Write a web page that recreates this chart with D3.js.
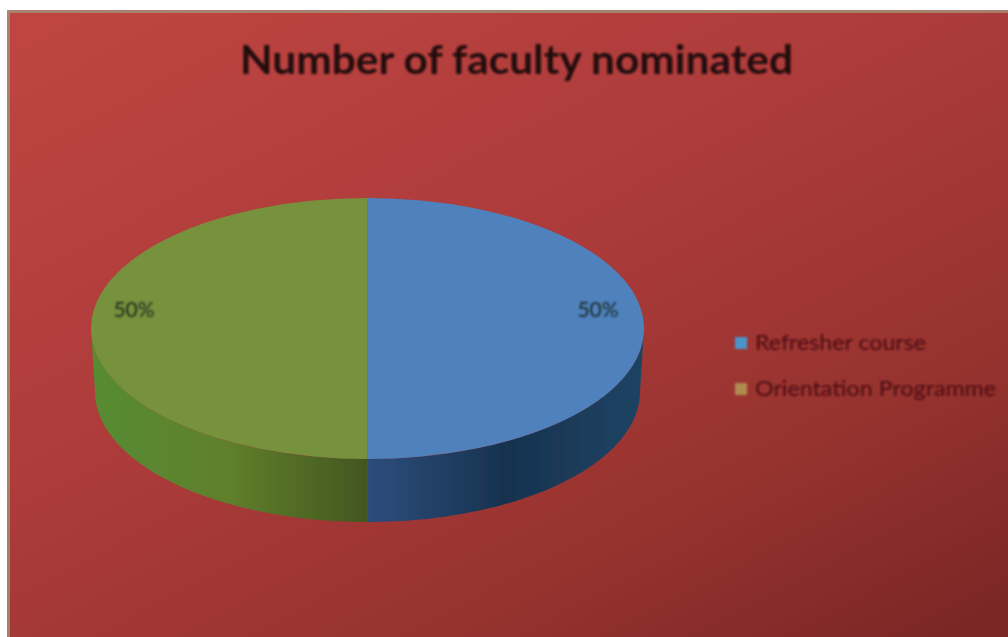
<!DOCTYPE html>
<html><head><meta charset="utf-8">
<script src="https://cdn.jsdelivr.net/npm/d3@7"></script>
<style>html,body{margin:0;padding:0;background:#fff}svg{display:block}</style>
</head><body><div id="c"></div>
<script>
const titleText = "Number of faculty nominated";
const categories = ["Refresher course", "Orientation Programme"];
const values = [50, 50];
const labels = ["50%", "50%"];
const topColors = ["#4f81bd", "#76923c"];
const legendColors = ["#4b94c8", "#b08a50"];

const W = 1008, H = 637;
const cx = 367.5, cy = 328.5, rx = 276.5, ry = 130.5, depth = 63, bottomRx = 272.5;

const svg = d3.select("#c").append("svg").attr("width", W).attr("height", H);
const defs = svg.append("defs");

function grad(id, attrs, stops, userSpace) {
  const g = defs.append("linearGradient").attr("id", id);
  if (userSpace) g.attr("gradientUnits", "userSpaceOnUse");
  Object.entries(attrs).forEach(([k, v]) => g.attr(k, v));
  stops.forEach(([o, c]) => g.append("stop").attr("offset", o).attr("stop-color", c));
}
grad("bg", {x1: "8%", y1: "0%", x2: "92%", y2: "100%"},
  [[0, "#be4541"], [0.45, "#ab3b3a"], [0.75, "#97332f"], [1, "#7c2726"]]);
grad("wall0", {x1: cx, y1: 0, x2: cx + rx, y2: 0},
  [[0, "#2d4d7c"], [0.5, "#17324f"], [1, "#1f4464"]], true);
grad("wall1", {x1: cx - rx, y1: 0, x2: cx, y2: 0},
  [[0, "#578c33"], [0.5, "#5f7f2c"], [1, "#43561f"]], true);

const soft = defs.append("filter").attr("id", "soft")
  .attr("x", "-5%").attr("y", "-20%").attr("width", "110%").attr("height", "140%");
soft.append("feGaussianBlur").attr("stdDeviation", 0.8);
const softer = defs.append("filter").attr("id", "softer")
  .attr("x", "-2%").attr("y", "-2%").attr("width", "104%").attr("height", "104%");
softer.append("feGaussianBlur").attr("stdDeviation", 0.7);

// chart area background
svg.append("rect").attr("x", 7).attr("y", 10).attr("width", W - 7).attr("height", H - 10).attr("fill", "url(#bg)");
svg.append("rect").attr("x", 7).attr("y", 10).attr("width", 3).attr("height", H - 10).attr("fill", "#a58d74").attr("opacity", 0.85);
svg.append("rect").attr("x", 7).attr("y", 10).attr("width", W - 7).attr("height", 3).attr("fill", "#a58d74").attr("opacity", 0.85);

// title
svg.append("text").attr("x", 516.5).attr("y", 74)
  .attr("text-anchor", "middle")
  .attr("font-family", "Lato, 'Open Sans', sans-serif").attr("font-weight", 700).attr("font-size", 40)
  .attr("textLength", 553).attr("lengthAdjust", "spacingAndGlyphs")
  .attr("fill", "#220a0d").attr("filter", "url(#soft)").text(titleText);

// pie
const pie = d3.pie().sort(null).value(d => d);
const arcs = pie(values);
const gPie = svg.append("g").attr("filter", "url(#softer)");

// walls: visible (front) part of every slice, angle measured clockwise from 12 o'clock
const py = a => cy - ry * Math.cos(a);
const lineGen = d3.line();
arcs.forEach((s, i) => {
  const a0 = Math.max(s.startAngle, Math.PI / 2);
  const a1 = Math.min(s.endAngle, 3 * Math.PI / 2);
  if (a1 <= a0) return;
  const t = d3.scaleLinear().domain([0, 60]).range([a0, a1]);
  const as = d3.range(61).map(t);
  const upper = as.map(a => [cx + rx * Math.sin(a), py(a)]);
  const lower = as.slice().reverse().map(a => [cx + bottomRx * Math.sin(a), py(a) + depth]);
  gPie.append("path").attr("d", lineGen(upper.concat(lower)) + "Z").attr("fill", `url(#wall${i})`);
});

// top face: d3.arc squashed into an ellipse
const arcGen = d3.arc().innerRadius(0).outerRadius(rx);
const topFace = gPie.append("g").attr("transform", `translate(${cx},${cy}) scale(1,${ry / rx})`);
topFace.selectAll("path").data(arcs).join("path")
  .attr("d", arcGen).attr("fill", (d, i) => topColors[i]);

// data labels
const labelPos = [[598, 310], [134, 310]];
svg.selectAll("text.lab").data(labels).join("text").attr("class", "lab")
  .attr("x", (d, i) => labelPos[i][0]).attr("y", (d, i) => labelPos[i][1] + 7)
  .attr("text-anchor", "middle")
  .attr("font-family", "Lato, sans-serif").attr("font-size", 21)
  .attr("fill", "#1c2a22").attr("filter", "url(#soft)").text(d => d);

// legend
const legendY = d3.scalePoint().domain(categories).range([343, 389]);
const legend = svg.selectAll("g.leg").data(categories).join("g").attr("class", "leg")
  .attr("transform", d => `translate(0,${legendY(d)})`).attr("filter", "url(#soft)");
legend.append("rect").attr("x", 735).attr("y", -6).attr("width", 12).attr("height", 12)
  .attr("fill", (d, i) => legendColors[i]);
legend.append("text").attr("x", 755).attr("y", 7)
  .attr("font-family", "Lato, sans-serif").attr("font-size", 21)
  .attr("textLength", (d, i) => [171, 241][i]).attr("lengthAdjust", "spacingAndGlyphs")
  .attr("fill", "#4a0c12").text(d => d);
</script></body></html>
